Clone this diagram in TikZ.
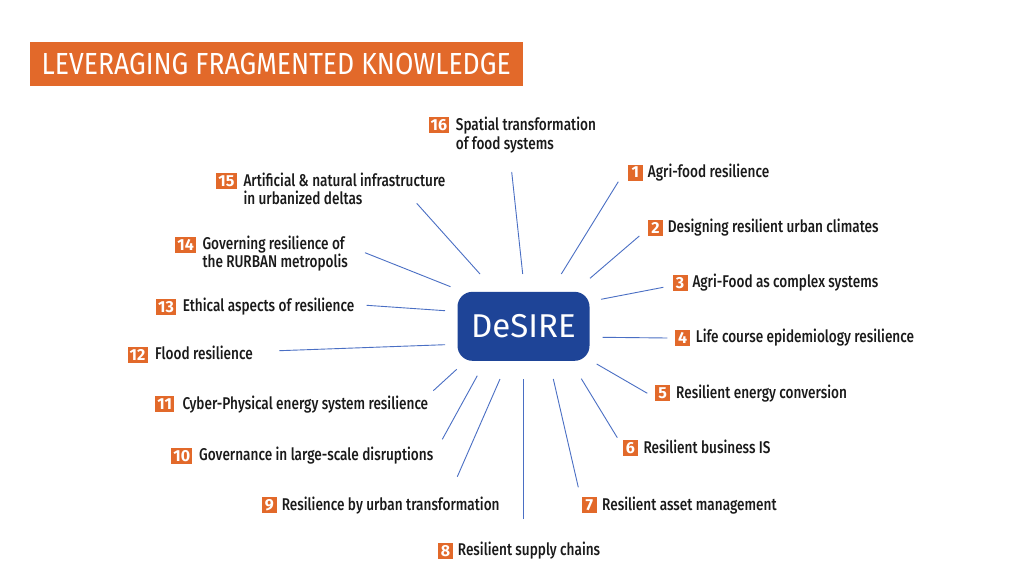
\documentclass[tikz,border=0pt]{standalone}
\usepackage{fontspec}
\setmainfont[FakeStretch=0.80]{Fira Sans Medium}
\newfontfamily\titlefont[FakeStretch=0.87]{Fira Sans}
\newfontfamily\hubfont{Fira Sans}
\newfontfamily\numfont{Fira Sans Bold}
\definecolor{dsorange}{HTML}{E2692A}
\definecolor{dsblue}{HTML}{1E4497}
\definecolor{dsray}{HTML}{4A6FC4}
\definecolor{dstext}{HTML}{1A1A1A}
\tikzset{
  num/.style={fill=dsorange, text=white, font=\numfont\fontsize{16}{16}\selectfont,
    inner xsep=2.2pt, inner ysep=0pt, minimum width=15pt, minimum height=16pt, anchor=west},
  lab/.style={anchor=base west, inner sep=0pt, font=\fontsize{17}{18.5}\selectfont,
    align=left, text=dstext},
  ray/.style={draw=dsray, line width=0.9pt},
  titlebox/.style={fill=dsorange, text=white, font=\titlefont\fontsize{30.5}{32}\selectfont,
    minimum width=493.4pt, minimum height=44.4pt, inner sep=0pt, anchor=north west},
  hub/.style={fill=dsblue, text=white, font=\hubfont\fontsize{33}{34}\selectfont,
    minimum width=132pt, minimum height=69pt, rounded corners=15pt, inner sep=0pt}
}
\begin{document}
\begin{tikzpicture}[x=1pt,y=-1pt]
\useasboundingbox (0,0) rectangle (1024,583);
\fill[white] (0,0) rectangle (1024,583);
% title
\node[titlebox] (title) at (29.3,41.4) {LEVERAGING FRAGMENTED KNOWLEDGE};
% hub
\node[hub] (hub) at (523.5,326.3) {DeSIRE};
% rays
\coordinate (a16) at (511.7,172);   \coordinate (b16) at (522.7,274);
\coordinate (a15) at (416.7,203.3); \coordinate (b15) at (480,274);
\coordinate (a14) at (365,252.7);   \coordinate (b14) at (450.5,286.7);
\coordinate (a13) at (366.7,305.3); \coordinate (b13) at (445,310.7);
\coordinate (a12) at (279.3,350.7); \coordinate (b12) at (445,344.7);
\coordinate (a11) at (433.3,390.7); \coordinate (b11) at (456.7,369.3);
\coordinate (a10) at (442.3,439.3); \coordinate (b10) at (477.3,375.7);
\coordinate (a9) at (457.3,476.7);  \coordinate (b9) at (500,379);
\coordinate (a8) at (523.7,519);    \coordinate (b8) at (523.7,379);
\coordinate (a7) at (578.3,487.3);  \coordinate (b7) at (553.3,379);
\coordinate (a6) at (617.3,437.7);  \coordinate (b6) at (581.3,378.7);
\coordinate (a5) at (647.3,393.3);  \coordinate (b5) at (596.7,364);
\coordinate (a4) at (667.3,338);    \coordinate (b4) at (602.7,337.3);
\coordinate (a3) at (663.3,287.3);  \coordinate (b3) at (601,299.3);
\coordinate (a2) at (639.3,236);    \coordinate (b2) at (590,278.3);
\coordinate (a1) at (618.3,181.7);  \coordinate (b1) at (561.3,274);
\foreach \i in {1,...,16} {\draw[ray] (a\i) -- (b\i);}
% labels
\node[num] (n16) at (428.3,125.3) {16};
\node[lab] (t16) at (455.7,149.3) {Spatial transformation\\of food systems};
\node[num] (n1) at (627.7,172.5) {1};
\node[lab] (t1) at (647.7,177.3) {Agri-food resilience};
\node[num] (n2) at (647.7,227.8) {2};
\node[lab] (t2) at (667.7,232.6) {Designing resilient urban climates};
\node[num] (n3) at (672.3,282.8) {3};
\node[lab] (t3) at (692.3,287.6) {Agri-Food as complex systems};
\node[num] (n4) at (675,337.8) {4};
\node[lab] (t4) at (695.7,342.6) {Life course epidemiology resilience};
\node[num] (n5) at (655,393.3) {5};
\node[lab] (t5) at (676,398.1) {Resilient energy conversion};
\node[num] (n6) at (622.7,448.3) {6};
\node[lab] (t6) at (643.3,453.1) {Resilient business IS};
\node[num] (n7) at (581.6,505.4) {7};
\node[lab] (t7) at (602,510.2) {Resilient asset management};
\node[num] (n8) at (437.7,551) {8};
\node[lab] (t8) at (457.7,555.8) {Resilient supply chains};
\node[num] (n9) at (261.6,505.4) {9};
\node[lab] (t9) at (281.6,510.2) {Resilience by urban transformation};
\node[num] (n10) at (171,455.8) {10};
\node[lab] (t10) at (199,460.6) {Governance in large-scale disruptions};
\node[num] (n11) at (155,404.2) {11};
\node[lab] (t11) at (182.3,409) {Cyber-Physical energy system resilience};
\node[num] (n12) at (127.3,354.5) {12};
\node[lab] (t12) at (155,359.3) {Flood resilience};
\node[num] (n13) at (155.7,307) {13};
\node[lab] (t13) at (182.7,311.8) {Ethical aspects of resilience};
\node[num] (n14) at (175,244.5) {14};
\node[lab] (t14) at (202.3,267.5) {Governing resilience of\\the RURBAN metropolis};
\node[num] (n15) at (216,180.8) {15};
\node[lab] (t15) at (243.3,204.5) {Artificial \& natural infrastructure\\in urbanized deltas};
\end{tikzpicture}
\end{document}
